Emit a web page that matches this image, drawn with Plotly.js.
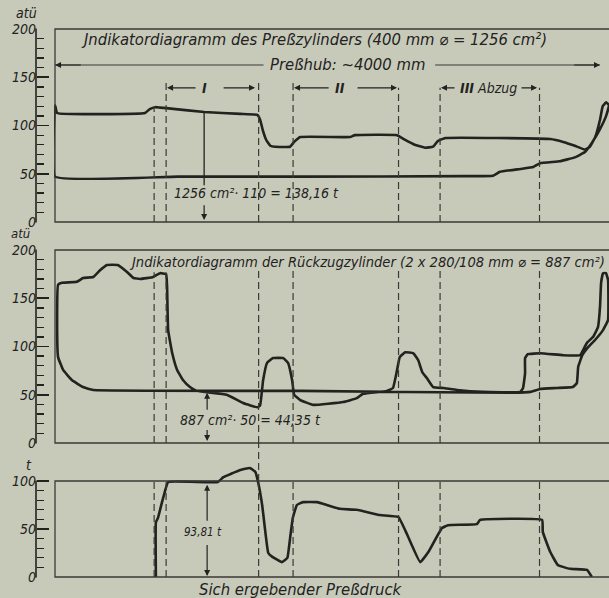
<!DOCTYPE html>
<html><head><meta charset="utf-8">
<script src="https://cdn.plot.ly/plotly-3.0.1.min.js"></script>
<style>html,body{margin:0;padding:0;background:#c8cab9;}#chart{width:609px;height:598px;}</style>
</head><body><div id="chart"></div>
<script>
// ---------- data (x: stroke in mm, y: pressure in atü / force in t) ----------
// Indikatordiagramm des Preßzylinders (closed loop)
const pressX = [0, 0, 15, 660, 695, 735, 770, 815, 1095, 1360, 1485, 1505, 1525, 1550, 1580, 1615, 1725, 1755, 1800, 2165, 2200, 2510, 2570, 2640, 2715, 2775, 2810, 2865, 3635, 3730, 3815, 3890, 3925, 3965, 4000, 4020, 4045, 4066, 4045, 3995, 3940, 3890, 3815, 3705, 3560, 3510, 3415, 3265, 3215, 3000, 1800, 900, 0];
const pressY = [47, 121, 113, 113, 117, 119, 118.5, 118, 114, 112, 111, 106, 95, 85, 79, 78, 78, 83, 88, 88, 90, 90, 85, 80, 77, 78, 84, 87, 86, 83, 79, 75, 78, 88, 106, 120, 124, 121, 110, 95, 82, 72.5, 67, 63, 61, 57, 55, 52, 48, 47.5, 47, 47, 47];

// Indikatordiagramm der Rückzugzylinder (closed loop)
const returnX = [22, 50, 160, 205, 280, 330, 380, 460, 530, 575, 625, 720, 770, 815, 822, 830, 860, 895, 940, 990,
  1040, 1260, 1380, 1485, 1505, 1527, 1556, 1600, 1675, 1710, 1740, 1755, 1800, 1895, 2115, 2215, 2260, 2435, 2480, 2510,
  2530, 2570, 2630, 2665, 2695, 2730, 2775, 2850, 2950, 3140, 3415, 3435, 3450, 3450, 3470, 3560, 3730, 3855, 3875, 3905,
  3950, 3985, 4000, 4008, 4022, 4044, 4059, 4059, 4022, 3965, 3905, 3870, 3840, 3830, 3800, 3685, 3560, 3490, 3360, 1800,
  280, 205, 125, 60, 22, 15, 22];
const returnY = [164, 166, 167, 171, 172, 179, 184.5, 184.5, 177, 171, 170, 172, 176, 175, 162, 117, 93, 76, 65, 58,
  54, 50, 41.5, 37, 39, 65, 83, 88, 88, 83, 65, 50, 44.5, 39.5, 42.5, 46.5, 51, 54, 57, 75.5,
  89, 94, 93, 86, 73.5, 67, 58, 57, 55, 53, 53, 57, 72.5, 88, 92, 93, 91, 91, 96, 104,
  110, 120, 141, 166, 176, 176, 169, 127.5, 117, 107, 98, 91, 79, 62, 58, 57, 56, 53, 52, 54,
  55, 58, 65, 75.5, 89, 127.5, 164];

// Sich ergebender Preßdruck (t)
const forceX = [740, 740, 755, 785, 805, 830, 1195, 1235, 1300, 1360, 1430, 1470, 1490, 1520, 1540, 1565, 1595, 1665, 1705, 1725, 1745, 1775, 1820, 1925, 1995, 2090, 2215, 2385, 2520, 2585, 2680, 2740, 2840, 2885, 3095, 3120, 3575, 3580, 3635, 3690, 3780, 3905, 3940];
const forceY = [0, 57, 61.5, 78, 88.5, 99, 99, 104, 108, 111.5, 113.5, 109.5, 99, 75, 51, 25, 21, 15.5, 20, 40.5, 61.5, 75, 78, 78, 75, 71, 70, 64.5, 62.5, 44, 15.5, 26, 51, 54, 55, 59.5, 59.5, 47, 26, 12.5, 8.5, 7.5, 0];

// dashed section marks (mm) and their upper ends per panel
const sectionMarks = [727, 815, 1494, 1747, 2521, 2826, 3556];
const dashTop1 = [117, 144, 144, 144, 139, 139, 139];
const dashTop2 = [177, 177, 182, 182, 179, 179, 179];
const dashTop3 = [100, 100, 100, 100, 100, 100, 100];

// tick labels
const atuTicks = [0, 50, 100, 150, 200];
const atuMinor = [10, 20, 30, 40, 60, 70, 80, 90, 110, 120, 130, 140, 160, 170, 180, 190];
const tTicks = [0, 50, 100];
const tMinor = [10, 20, 30, 40, 60, 70, 80, 90];

// texts
const title1 = 'Jndikatordiagramm des Preßzylinders (400 mm ⌀ = 1256 cm²)';
const title2 = 'Jndikatordiagramm der Rückzugzylinder (2 x 280/108 mm ⌀ = 887 cm²)';
const strokeLabel = 'Preßhub: ~4000 mm';
const caption = 'Sich ergebender Preßdruck';
const calc1 = '1256 cm²· 110 = 138,16 t';
const calc2 = '887 cm²· 50 = 44,35 t';
const calc3 = '93,81 t';
const sectionLabels = ['I', 'II', 'III Abzug'];
const sectionLabelX = [1094, 2092, 3178];
const sectionArrows = [[1042, 822], [1226, 1468], [2019, 1754], [2209, 2510], [2943, 2833], [3413, 3538]]; // [tail, tip]

// ---------- styling ----------
const BG = '#c8cab9', INK = '#22221f', FRAME = '#3a3a36';
const FONT = 'DejaVu Sans Condensed, DejaVu Sans, Liberation Sans, sans-serif';
const W = 609, H = 598;
const fx = p => p / W, fy = p => 1 - p / H;

const lineStyle = {color: INK, width: 2.6, shape: 'spline', smoothing: 0.3};
const traces = [
  {x: pressX, y: pressY, xaxis: 'x', yaxis: 'y', mode: 'lines', line: lineStyle, hoverinfo: 'skip'},
  {x: returnX, y: returnY, xaxis: 'x2', yaxis: 'y2', mode: 'lines', line: lineStyle, hoverinfo: 'skip'},
  {x: forceX, y: forceY, xaxis: 'x3', yaxis: 'y3', mode: 'lines', line: lineStyle, hoverinfo: 'skip'}
];

const xBase = {domain: [54 / W, 1], range: [-8, 4066], visible: false, fixedrange: true};
const tickFont = {family: FONT, size: 14, color: INK, style: 'italic'};
function yAxis(domain, range, ticks, minor) {
  return {
    domain: domain, range: range, anchor: 'free', position: 36 / W,
    showline: false, showgrid: false, zeroline: false, fixedrange: true,
    tickmode: 'array', tickvals: ticks, ticktext: ticks.map(String),
    ticks: 'inside', ticklen: 12, tickwidth: 1.6, tickcolor: INK, tickfont: tickFont,
    minor: {tickmode: 'array', tickvals: minor, ticks: 'inside', ticklen: 7, tickwidth: 1.3, tickcolor: INK}
  };
}

const shapes = [];
// frames
[[29, 222], [250, 443], [481, 577]].forEach(([t, b]) => {
  shapes.push({type: 'rect', xref: 'paper', yref: 'paper', x0: fx(55), x1: 1.05, y0: fy(b), y1: fy(t),
    line: {color: FRAME, width: 1.3}});
});
// rulers
[[29, 222], [250, 443], [481, 577]].forEach(([t, b]) => {
  shapes.push({type: 'line', xref: 'paper', yref: 'paper', x0: fx(36), x1: fx(36), y0: fy(b + 0.5), y1: fy(t - 0.5),
    line: {color: INK, width: 1.6}});
});
// dashed section lines
const dashLine = {color: FRAME, width: 1.2, dash: '7px,4px'};
sectionMarks.forEach((m, i) => {
  shapes.push({type: 'line', xref: 'x', yref: 'y', x0: m, x1: m, y0: 0, y1: dashTop1[i], line: dashLine});
  shapes.push({type: 'line', xref: 'x2', yref: 'y2', x0: m, x1: m, y0: 0, y1: dashTop2[i], line: dashLine});
  shapes.push({type: 'line', xref: 'x3', yref: 'y3', x0: m, x1: m, y0: 0, y1: dashTop3[i], line: dashLine});
});
// the third mark runs through the gap into the force diagram
shapes.push({type: 'line', xref: 'x2', yref: 'paper', x0: sectionMarks[2], x1: sectionMarks[2], y0: fy(481), y1: fy(443), line: dashLine});
// stroke line
shapes.push({type: 'line', xref: 'x', yref: 'y', x0: 0, x1: 1530, y0: 162.7, y1: 162.7, line: {color: FRAME, width: 1.2}});
shapes.push({type: 'line', xref: 'x', yref: 'y', x0: 2790, x1: 4000, y0: 162.7, y1: 162.7, line: {color: FRAME, width: 1.2}});
// dimension line
shapes.push({type: 'line', xref: 'x', yref: 'y', x0: 1094, x1: 1094, y0: 38, y1: 114, line: {color: INK, width: 1.3}});

const annotations = [];
function txt(x, y, text, size, xanchor, refs) {
  annotations.push(Object.assign({x: x, y: y, text: text, showarrow: false, xanchor: xanchor || 'center', yanchor: 'middle',
    font: {family: FONT, size: size, color: INK, style: 'italic'}}, refs || {xref: 'paper', yref: 'paper'}));
}
function arrow(x, tipY, tailY, xr, yr, tailX) {
  annotations.push({x: x, y: tipY, ax: tailX === undefined ? x : tailX, ay: tailY, xref: xr, yref: yr, axref: xr, ayref: yr,
    text: '', showarrow: true, arrowhead: 2, arrowsize: 1, arrowwidth: 1.2, arrowcolor: INK, standoff: 0, startstandoff: 0});
}
txt(fx(79), fy(40), title1, 16.5, 'left');
txt(fx(127), fy(262), title2, 14.6, 'left');
txt(2150, 162.7, strokeLabel, 16.5, 'center', {xref: 'x', yref: 'y'});
txt(fx(301), fy(589), caption, 16.5, 'center');
txt(1480, 30, calc1, 14, 'center', {xref: 'x', yref: 'y'});
txt(1431, 24, calc2, 14, 'center', {xref: 'x2', yref: 'y2'});
txt(1086, 47, calc3, 11.5, 'center', {xref: 'x3', yref: 'y3'});
txt(fx(26), fy(13), 'atü', 14, 'center');
txt(fx(20), fy(234), 'atü', 13, 'center');
txt(fx(29), fy(465), 't', 14, 'center');
sectionLabels.forEach((s, i) => txt(sectionLabelX[i], 139, s.replace(/^(I+)/, '<b>$1</b>'), 14, 'center', {xref: 'x', yref: 'y'}));
sectionArrows.forEach(([tail, tip]) => arrow(tip, 139, 139, 'x', 'y', tail));
// stroke arrows
arrow(0, 162.7, 162.7, 'x', 'y', 200);
arrow(4000, 162.7, 162.7, 'x', 'y', 3800);
// dimension arrows
arrow(1094, 2, 19, 'x', 'y');
arrow(1116, 52, 33, 'x2', 'y2');
arrow(1116, 2, 15, 'x2', 'y2');
arrow(1116, 96, 57, 'x3', 'y3');
arrow(1116, 1, 35, 'x3', 'y3');

const layout = {
  width: W, height: H, margin: {l: 0, r: 0, t: 0, b: 0},
  paper_bgcolor: BG, plot_bgcolor: 'rgba(0,0,0,0)', showlegend: false,
  xaxis: Object.assign({anchor: 'y'}, xBase),
  xaxis2: Object.assign({anchor: 'y2', matches: 'x'}, xBase),
  xaxis3: Object.assign({anchor: 'y3', matches: 'x'}, xBase),
  yaxis: yAxis([fy(222), fy(29)], [0, 200], atuTicks, atuMinor),
  yaxis2: yAxis([fy(443), fy(250)], [0, 200], atuTicks, atuMinor),
  yaxis3: yAxis([fy(577), fy(461.8)], [0, 120], tTicks, tMinor),
  shapes: shapes, annotations: annotations
};
Plotly.newPlot('chart', traces, layout, {staticPlot: true, displayModeBar: false});
</script></body></html>
